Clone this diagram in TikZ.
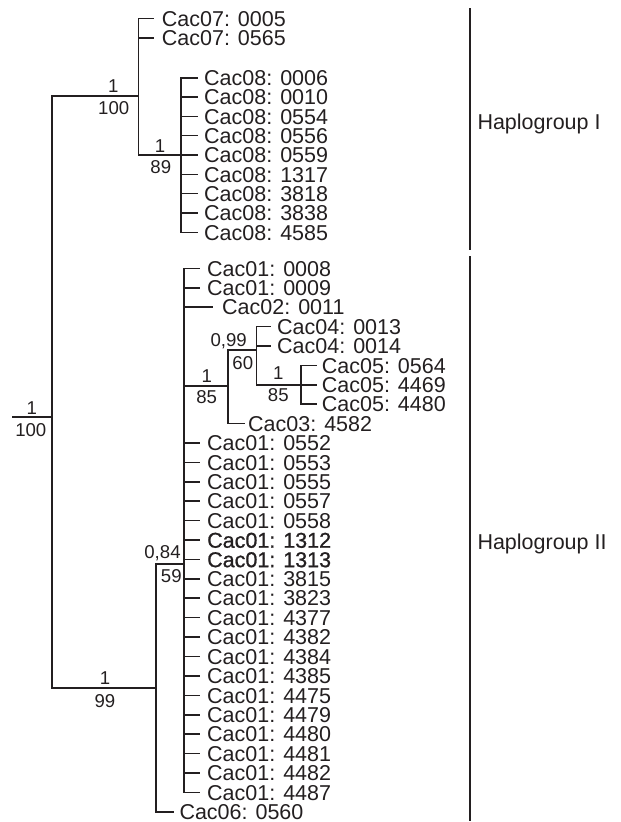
\documentclass[tikz,border=0pt]{standalone}
\usepackage{fontspec}
\setmainfont{Liberation Sans}
\newfontface\semibold{Liberation Sans}[FakeBold=0.9]
\definecolor{ink}{HTML}{231F20}
\begin{document}
\begin{tikzpicture}[x=1pt,y=-1pt,
  br/.style={line width=1.6pt, draw=ink, line cap=rect},
  grp/.style={line width=1.8pt, draw=ink},
  leaf/.style={anchor=west, inner sep=0pt, text=ink, font=\fontsize{21.5}{21.5}\selectfont, text height=15.4pt, text depth=0pt},
  sup/.style={inner sep=0pt, text=ink, font=\fontsize{18.6}{18.6}\selectfont, text height=13.3pt, text depth=0pt}]
\useasboundingbox (0,0) rectangle (621,822);

% internal nodes
\coordinate (rootin) at (12.7,416.7);
\coordinate (root) at (51.7,416.7);
\coordinate (rootT) at (51.7,95.7);
\coordinate (rootB) at (51.7,687.7);
\coordinate (n1) at (138.3,95.7);
\coordinate (n1T) at (138.3,18.3);
\coordinate (n1B) at (138.3,154.7);
\coordinate (n2) at (180.7,154.7);
\coordinate (n2T) at (180.7,77.7);
\coordinate (n2B) at (180.7,232.3);
\coordinate (m1) at (155.7,687.7);
\coordinate (m1T) at (155.7,564);
\coordinate (m1B) at (155.7,811.7);
\coordinate (m2) at (184,564);
\coordinate (m2T) at (184,268.3);
\coordinate (m2B) at (184,792.4);
\coordinate (mA0) at (184,386);
\coordinate (mA) at (227.7,386);
\coordinate (mAT) at (227.7,350);
\coordinate (mAB) at (227.7,423.6);
\coordinate (mB) at (256.3,350);
\coordinate (mBT) at (256.3,326.5);
\coordinate (mBB) at (256.3,384.8);
\coordinate (mC) at (301,384.8);
\coordinate (mCT) at (301,365.4);
\coordinate (mCB) at (301,404.2);

\draw[br] (rootin) -- (root);
\draw[br] (rootT) -- (rootB);
\draw[br] (rootT) -- (n1);
\draw[br] (n1T) -- (n1B);
\draw[br] (n1B) -- (n2);
\draw[br] (n2T) -- (n2B);
\draw[br] (rootB) -- (m1);
\draw[br] (m1T) -- (m1B);
\draw[br] (m1T) -- (m2);
\draw[br] (m2T) -- (m2B);
\draw[br] (mA0) -- (mA);
\draw[br] (mAT) -- (mAB);
\draw[br] (mAT) -- (mB);
\draw[br] (mBT) -- (mBB);
\draw[br] (mBB) -- (mC);
\draw[br] (mCT) -- (mCB);

% support values
\node[sup] (s0a) at (31.7,408.3) {1};
\node[sup] (s0b) at (30.8,430) {100};
\node[sup] (s1a) at (113.3,85.8) {1};
\node[sup] (s1b) at (113.7,108.3) {100};
\node[sup] (s2a) at (160,145.8) {1};
\node[sup] (s2b) at (160.8,167) {89};
\node[sup] (s3a) at (105,677.7) {1};
\node[sup] (s3b) at (105,701) {99};
\node[sup] (s4a) at (162.5,551.7) {0,84};
\node[sup] (s4b) at (171.3,576) {59};
\node[sup] (s5a) at (228.7,340) {0,99};
\node[sup] (s5b) at (242.8,363.3) {60};
\node[sup] (s6a) at (206.7,376) {1};
\node[sup] (s6b) at (206.7,396.7) {85};
\node[sup] (s7a) at (278.3,373.3) {1};
\node[sup] (s7b) at (278.3,395) {85};

% Cac07
\foreach \n/\yy [count=\i] in {0005/18.3,0565/37.7} {
  \coordinate (a7-\i) at (138.3,\yy);
  \node[leaf] (L7-\i) at (161.7,\yy) {Cac07: \n};
  \draw[br, shorten >=9pt] (a7-\i) -- (L7-\i.west);
}
% Cac08
\foreach \n [count=\i from 0] in {0006,0010,0554,0556,0559,1317,3818,3838,4585} {
  \pgfmathsetmacro\yy{77.7+19.325*\i}
  \coordinate (a8-\i) at (180.7,\yy);
  \node[leaf] (L8-\i) at (204,\yy) {Cac08: \n};
  \draw[br, shorten >=7.3pt] (a8-\i) -- (L8-\i.west);
}
% Haplogroup II leaves
\foreach \n [count=\i from 0] in {0008,0009} {
  \pgfmathsetmacro\yy{268.3+19.41*\i}
  \coordinate (a1t-\i) at (184,\yy);
  \node[leaf] (L1t-\i) at (207,\yy) {Cac01: \n};
  \draw[br, shorten >=7.7pt] (a1t-\i) -- (L1t-\i.west);
}
\coordinate (a2) at (184,307.1);
\node[leaf] (L2) at (222,307.1) {Cac02: 0011};
\draw[br, shorten >=9.7pt] (a2) -- (L2.west);

\coordinate (a4-1) at (256.3,326.5);
\node[leaf] (L4-1) at (277,326.5) {Cac04: 0013};
\draw[br, shorten >=7pt] (a4-1) -- (L4-1.west);
\coordinate (a4-2) at (256.3,345.9);
\node[leaf] (L4-2) at (277,345.9) {Cac04: 0014};
\draw[br, shorten >=7pt] (a4-2) -- (L4-2.west);

\foreach \n/\yy [count=\i] in {0564/365.4,4469/384.8,4480/404.2} {
  \coordinate (a5-\i) at (301,\yy);
  \node[leaf] (L5-\i) at (321.7,\yy) {Cac05: \n};
  \draw[br, shorten >=5.7pt] (a5-\i) -- (L5-\i.west);
}
\coordinate (a3) at (227.7,423.6);
\node[leaf] (L3) at (248,423.6) {Cac03: 4582};
\draw[br, shorten >=4pt] (a3) -- (L3.west);

\foreach \n/\f [count=\i from 9] in {0552/,0553/,0555/,0557/,0558/,1312/\semibold,1313/\semibold,3815/,3823/,4377/,4382/,4384/,4385/,4475/,4479/,4480/,4481/,4482/,4487/} {
  \pgfmathsetmacro\yy{268.3+19.41*\i}
  \coordinate (a1-\i) at (184,\yy);
  \node[leaf] (L1-\i) at (207,\yy) {\f Cac01: \n};
  \draw[br, shorten >=7.7pt] (a1-\i) -- (L1-\i.west);
}
\coordinate (a6) at (155.7,811.7);
\node[leaf] (L6) at (179.3,811.7) {Cac06: 0560};
\draw[br, shorten >=6pt] (a6) -- (L6.west);

% haplogroup brackets
\coordinate (g1T) at (470,8.3);
\coordinate (g1B) at (470,250);
\coordinate (g2T) at (470,256);
\coordinate (g2B) at (470,821);
\draw[grp] (g1T) -- (g1B);
\draw[grp] (g2T) -- (g2B);
\node[leaf] (H1) at (477.3,121.5) {Haplogroup I};
\node[leaf] (H2) at (477.3,541.5) {Haplogroup II};
\end{tikzpicture}
\end{document}
